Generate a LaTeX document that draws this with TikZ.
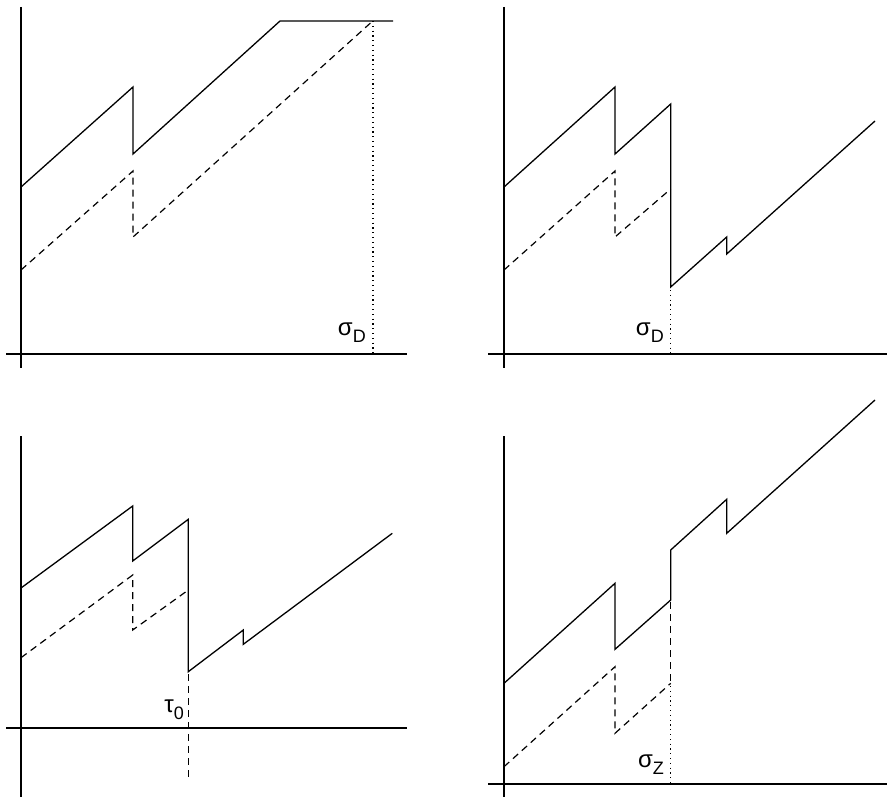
\documentclass[tikz,border=0pt]{standalone}
\usepackage{fontspec}
\setmainfont{Liberation Sans}
\begin{document}
\begin{tikzpicture}[x=1pt,y=-1pt,
  axis/.style={line width=1.5pt},
  path/.style={line width=1.3pt, line join=miter},
  dpath/.style={line width=1.2pt, dash pattern=on 7pt off 5pt},
  dotline/.style={line width=1.3pt, dash pattern=on 1.2pt off 3.6pt},
  lbl/.style={inner sep=0pt, font=\fontsize{24}{26}\selectfont}]
\newcommand{\subx}[1]{\raisebox{-0.3em}{\fontsize{18}{18}\selectfont #1}}
\useasboundingbox (0,0) rectangle (888,797);
% ---------- panel 1 ----------
\draw[axis] (21,7) -- (21,368);
\draw[axis] (6,354) -- (407,354);
\draw[path] (21,187) -- (133,87) -- (133,154) -- (280,21) -- (393,21);
\draw[dpath] (21,270) -- (133,171) -- (133,237) -- (372.7,21);
\draw[dotline] (373,21) -- (373,354);
\node[lbl, anchor=east] (l1) at (366,333) {σ\subx{D}};
% ---------- panel 2 ----------
\draw[axis] (504,7) -- (504,368);
\draw[axis] (488,354) -- (887,354);
\draw[path] (504,187) -- (615,87) -- (615,154) -- (670.7,104) -- (670.7,287)
  -- (726.7,237) -- (726.7,254) -- (875,121);
\draw[dpath] (504,270) -- (615,171) -- (615,237) -- (670.7,189);
\draw[dotline] (670.7,290) -- (670.7,354);
\node[lbl, anchor=east] (l2) at (664,333) {σ\subx{D}};
% ---------- panel 3 ----------
\draw[axis] (21,436) -- (21,797);
\draw[axis] (6,728) -- (407,728);
\draw[path] (21,588) -- (132.7,506) -- (132.7,561) -- (188.3,519.3) -- (188.3,671.7)
  -- (243.3,630) -- (243.3,644.3) -- (392.3,533.3);
\draw[dpath] (21,657.7) -- (132.7,575) -- (132.7,630) -- (188.3,590);
\draw[dpath] (188.3,674) -- (188.3,780);
\node[lbl, anchor=east] (l3) at (184,710) {τ\subx{0}};
% ---------- panel 4 ----------
\draw[axis] (504,436) -- (504,797);
\draw[axis] (488,784) -- (887,784);
\draw[path] (504,683.3) -- (615,583.3) -- (615,649.3) -- (670.7,600) -- (670.7,550)
  -- (726.7,499.3) -- (726.7,533.3) -- (875,400);
\draw[dpath] (504,766.7) -- (615,666.7) -- (615,733.3) -- (670.7,683.3);
\draw[dpath] (670.7,602) -- (670.7,683.3);
\draw[dotline] (670.7,686) -- (670.7,784);
\node[lbl, anchor=east] (l4) at (664,765) {σ\subx{Z}};
\end{tikzpicture}
\end{document}
